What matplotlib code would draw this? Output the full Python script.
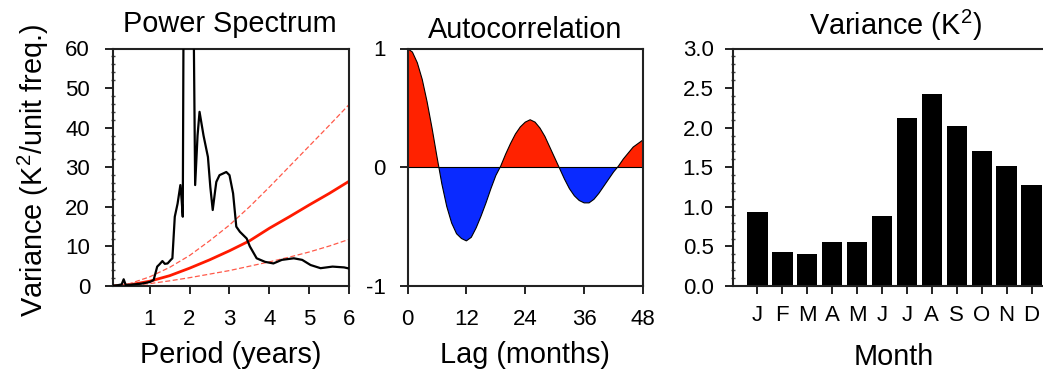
import matplotlib
matplotlib.use('Agg')
import matplotlib.pyplot as plt
from matplotlib.ticker import MultipleLocator, FixedLocator, FormatStrFormatter
import numpy as np

plt.rcParams['font.family'] = ['Liberation Sans', 'DejaVu Sans']
plt.rcParams['mathtext.fontset'] = 'custom'
plt.rcParams['mathtext.rm'] = 'Liberation Sans'
plt.rcParams['mathtext.it'] = 'Liberation Sans:italic'
plt.rcParams['axes.unicode_minus'] = False

# ---------------- data ----------------
spec_period = [0.083, 0.2, 0.3, 0.35, 0.4, 0.5, 0.6, 0.7, 0.8, 0.9, 1.0, 1.1,
               1.19, 1.25, 1.32, 1.38, 1.45, 1.53, 1.57, 1.63, 1.70, 1.77, 1.80,
               1.83, 1.86, 1.95, 2.05, 2.10, 2.14, 2.20, 2.25, 2.35, 2.46, 2.52,
               2.58, 2.64, 2.67, 2.75, 2.92, 3.00, 3.09, 3.17, 3.26, 3.43, 3.51,
               3.68, 3.89, 4.10, 4.31, 4.61, 4.82, 5.03, 5.28, 5.58, 5.87, 6.00]
spec_power = [0.1, 0.2, 0.4, 1.7, 0.3, 0.3, 0.4, 0.5, 0.6, 0.8, 1.0, 1.5,
              4.9, 5.5, 6.3, 5.6, 5.7, 6.6, 7.0, 17.5, 20.8, 25.5, 22.0,
              17.5, 95.0, 140.0, 110.0, 70.0, 25.5, 38.0, 44.0, 38.0, 32.6, 25.0,
              19.2, 24.0, 26.3, 28.0, 28.8, 28.0, 23.4, 15.0, 13.7, 12.0, 10.0,
              7.0, 6.1, 5.7, 6.6, 7.0, 6.6, 5.3, 4.5, 4.9, 4.7, 4.4]

ref_period = [0.083, 0.5, 1.0, 1.5, 2.0, 2.5, 3.0, 3.5, 4.0, 4.5, 5.0, 5.5, 6.0]
red_noise = [0.0, 0.3, 1.2, 2.6, 4.5, 6.6, 8.9, 11.4, 14.6, 17.5, 20.5, 23.4, 26.5]
red_upper = [0.0, 0.6, 2.3, 4.7, 7.7, 11.4, 15.4, 20.0, 25.0, 30.2, 35.4, 40.6, 45.9]
red_lower = [0.0, 0.15, 0.6, 1.3, 2.1, 3.0, 3.9, 5.0, 6.1, 7.3, 8.6, 10.1, 11.8]

lags = list(range(49))
acf = [1.00, 0.97, 0.88, 0.74, 0.55, 0.33, 0.09, -0.14, -0.33, -0.47,
       -0.56, -0.60, -0.62, -0.59, -0.51, -0.41, -0.30, -0.18, -0.07, 0.01,
       0.11, 0.20, 0.28, 0.34, 0.38, 0.40, 0.38, 0.33, 0.26, 0.17,
       0.08, -0.01, -0.10, -0.18, -0.24, -0.28, -0.30, -0.30, -0.27, -0.22,
       -0.16, -0.10, -0.04, 0.01, 0.07, 0.12, 0.17, 0.20, 0.23]

months = ['J', 'F', 'M', 'A', 'M', 'J', 'J', 'A', 'S', 'O', 'N', 'D']
month_var = [0.94, 0.43, 0.40, 0.55, 0.56, 0.88, 2.12, 2.43, 2.02, 1.71, 1.52, 1.28]

# ---------------- figure ----------------
W, H = 1043, 374
fig = plt.figure(figsize=(W / 100, H / 100), dpi=100)


def box(l, t, r, b):
    return [l / W, 1 - b / H, (r - l) / W, (b - t) / H]


def ftext(x, y, s, **kw):
    fig.text(x / W, 1 - y / H, s, **kw)


TICK = 16
LAB = 20.8


def style(ax):
    for sp in ax.spines.values():
        sp.set_linewidth(1.5)
        sp.set_color('#222222')
    ax.tick_params(which='major', direction='out', length=5.5, width=1.4,
                   labelsize=TICK, color='#222222')
    ax.tick_params(which='minor', direction='inout', length=3, width=1.0,
                   color='#444444')


# Panel 1: power spectrum
ax1 = fig.add_axes(box(113, 48.5, 349.3, 286))
ax1.plot(spec_period, spec_power, color='black', lw=1.6, zorder=3)
ax1.plot(ref_period, red_noise, color='#ff1a00', lw=2.0, zorder=2)
ax1.plot(ref_period, red_upper, color='#ff5a4a', lw=0.9, ls=(0, (4, 2)), zorder=2)
ax1.plot(ref_period, red_lower, color='#ff5a4a', lw=0.9, ls=(0, (4, 2)), zorder=2)
ax1.set_xlim(0.083, 6)
ax1.set_ylim(0, 60)
ax1.xaxis.set_major_locator(FixedLocator([1, 2, 3, 4, 5, 6]))
ax1.yaxis.set_major_locator(MultipleLocator(10))
ax1.yaxis.set_minor_locator(MultipleLocator(2))
style(ax1)
ax1.tick_params(axis='x', pad=11)
ax1.tick_params(axis='y', pad=11)

# Panel 2: autocorrelation
ax2 = fig.add_axes(box(407.5, 48.5, 643, 286))
a = np.array(acf)
ax2.fill_between(lags, a, 0, where=a >= 0, interpolate=True, color='#ff2200', lw=0)
ax2.fill_between(lags, a, 0, where=a <= 0, interpolate=True, color='#0a2aff', lw=0)
ax2.plot(lags, acf, color='black', lw=0.8)
ax2.axhline(0, color='black', lw=0.8)
ax2.set_xlim(0, 48)
ax2.set_ylim(-1, 1)
ax2.xaxis.set_major_locator(FixedLocator([0, 12, 24, 36, 48]))
ax2.yaxis.set_major_locator(FixedLocator([-1, 0, 1]))
style(ax2)
ax2.tick_params(axis='x', pad=11)
ax2.tick_params(axis='y', pad=10)

# Panel 3: monthly variance
ax3 = fig.add_axes(box(732.5, 48.5, 1056.5, 286))
xpos = np.arange(1, 13)
ax3.bar(xpos, month_var, width=0.82, color='black')
ax3.set_xlim(0, 13)
ax3.set_ylim(0, 3)
ax3.set_xticks(xpos)
ax3.set_xticklabels(months)
ax3.yaxis.set_major_locator(MultipleLocator(0.5))
ax3.yaxis.set_minor_locator(MultipleLocator(0.1))
ax3.yaxis.set_major_formatter(FormatStrFormatter('%.1f'))
style(ax3)
ax3.tick_params(axis='x', pad=8)
ax3.tick_params(axis='y', pad=8)

# titles & labels
ftext(230, 32, 'Power Spectrum', ha='center', va='baseline', fontsize=LAB)
ftext(525, 38, 'Autocorrelation', ha='center', va='baseline', fontsize=LAB)
ftext(895, 35, r'Variance (K$^2$)', ha='center', va='baseline', fontsize=LAB)
ftext(231, 355, 'Period (years)', ha='center', va='center', fontsize=LAB)
ftext(525, 355, 'Lag (months)', ha='center', va='center', fontsize=LAB)
ftext(894, 357, 'Month', ha='center', va='center', fontsize=LAB)
ftext(33, 170, r'Variance (K$^2$/unit freq.)', ha='center', va='center',
      rotation=90, fontsize=LAB)

fig.savefig('out.png', dpi=100)
